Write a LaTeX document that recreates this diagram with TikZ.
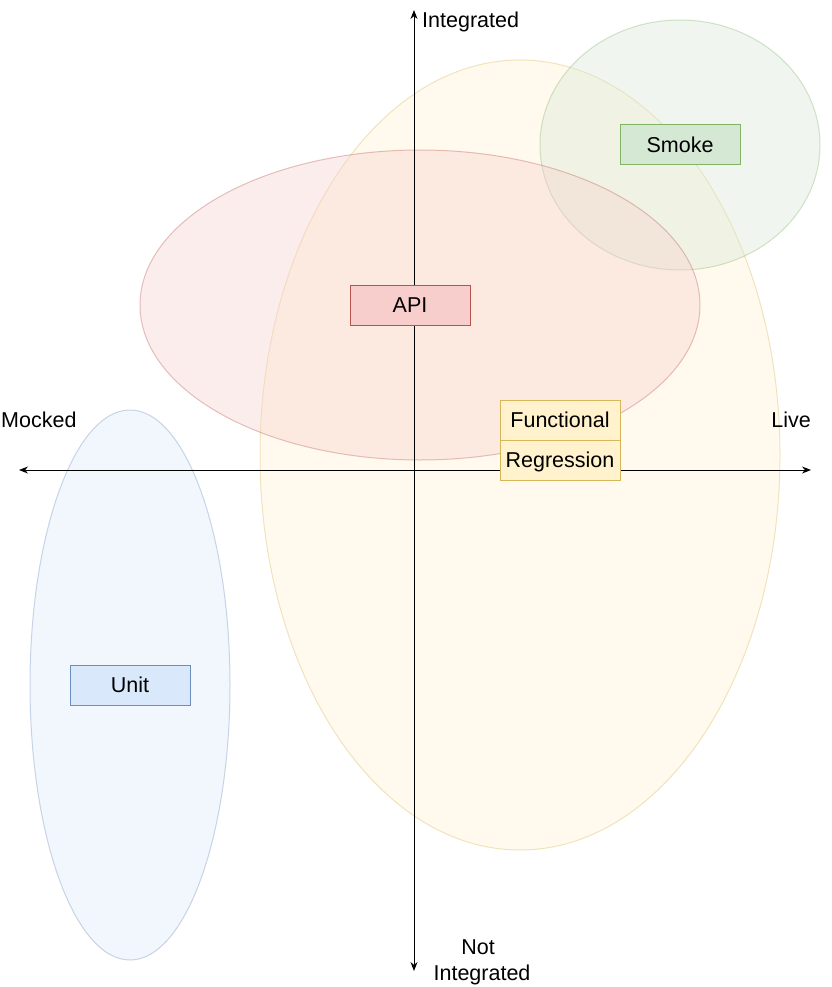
\documentclass[tikz,border=0pt]{standalone}
\usepackage{fontspec}
\setmainfont{Liberation Sans}
\usetikzlibrary{arrows.meta,shapes.geometric}
\definecolor{yfill}{HTML}{FFF2CC}\definecolor{ystroke}{HTML}{D6B656}
\definecolor{gfill}{HTML}{D5E8D4}\definecolor{gstroke}{HTML}{82B366}
\definecolor{rfill}{HTML}{F8CECC}\definecolor{rstroke}{HTML}{B85450}
\definecolor{bfill}{HTML}{DAE8FC}\definecolor{bstroke}{HTML}{6C8EBF}
\tikzset{
  zone/.style={draw, line width=1pt, fill opacity=0.35, draw opacity=0.35},
  box/.style={draw, line width=1pt, minimum width=120pt, minimum height=40pt, inner sep=0pt, text height=19.5pt, text depth=4.6pt, font=\fontsize{21.5}{25}\selectfont},
  lbl/.style={inner sep=0pt, text height=19.5pt, text depth=4.6pt, font=\fontsize{21.5}{25}\selectfont},
  axis/.style={line width=1pt, {Stealth[length=9pt,width=7pt]}-{Stealth[length=9pt,width=7pt]}}
}
\begin{document}
\begin{tikzpicture}[x=1pt,y=-1pt]
\useasboundingbox (0,0) rectangle (831,987);
\fill[white] (0,0) rectangle (831,987);
% zones
\draw[zone, fill=yfill, draw=ystroke] (520,455) ellipse [x radius=260, y radius=395];
\draw[zone, fill=gfill, draw=gstroke] (680,145) ellipse [x radius=140, y radius=125];
\draw[zone, fill=rfill, draw=rstroke] (420,305) ellipse [x radius=280, y radius=155];
\draw[zone, fill=bfill, draw=bstroke] (130,685) ellipse [x radius=100, y radius=275];
% axes
\coordinate (top) at (414,10);
\coordinate (bot) at (414,971);
\coordinate (left) at (19,470);
\coordinate (right) at (811,470);
\draw[axis] (bot) -- (top);
\draw[axis] (left) -- (right);
% axis labels
\node[lbl, anchor=west] (integ) at (422,20) {Integrated};
\node[lbl, anchor=west] (mocked) at (1,420) {Mocked};
\node[lbl, anchor=east] (live) at (811,420) {Live};
\node[lbl] (notA) at (478,947) {Not};
\node[lbl] (notB) at (482,973) {Integrated};
% boxes
\node[box, fill=gfill, draw=gstroke] (smoke) at (680,145) {Smoke};
\node[box, fill=rfill, draw=rstroke] (api) at (410,305) {API};
\node[box, fill=yfill, draw=ystroke] (func) at (560,420) {Functional};
\node[box, fill=yfill, draw=ystroke] (regr) at (560,460) {Regression};
\node[box, fill=bfill, draw=bstroke] (unit) at (130,685) {Unit};
\end{tikzpicture}
\end{document}
